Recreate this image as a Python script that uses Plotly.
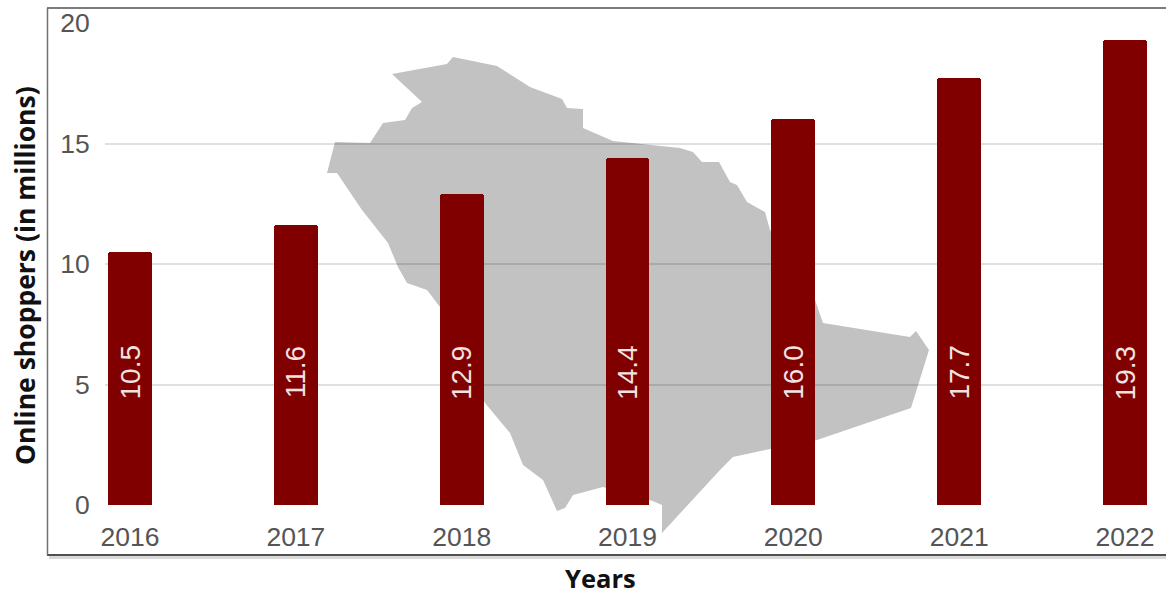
import plotly.graph_objects as go

years = ["2016", "2017", "2018", "2019", "2020", "2021", "2022"]
shoppers = [10.5, 11.6, 12.9, 14.4, 16.0, 17.7, 19.3]
y_ticks = [0, 5, 10, 15, 20]

# Decorative country silhouette behind the chart, as picture pixels
map_px_x = [392,447,453,497,530,562,567,583,583,613,680,693,702,719,730,737,747,765,770,815,823,910,916,929,911,817,770,733,720,662,662,650,603,573,565,557,543,523,510,485,440,427,407,398,388,362,337,327,335,370,383,405,412,422]
map_px_y = [74,64,57,66,87,99,108,109,128,141,148,152,162,162,182,185,202,212,230,300,323,337,331,350,408,440,449,457,470,533,505,500,487,495,508,511,480,465,433,403,307,290,283,267,243,210,173,173,142,143,123,120,108,102]

W, H = 1166, 594
L, R, T, B = 105, 1147, 23, 505

def px(x): return (x - L) / (R - L)
def py(y): return (B - y) / (B - T)

path = "M " + " L ".join(f"{px(x):.5f},{py(y):.5f}" for x, y in zip(map_px_x, map_px_y)) + " Z"
idx = list(range(len(years)))

fig = go.Figure(go.Bar(x=idx, y=shoppers, width=0.265,
                       marker=dict(color="#800000", cornerradius=3, line=dict(width=0)),
                       hoverinfo="x+y"))

shapes = [dict(type="path", xref="paper", yref="paper", path=path, layer="below",
               fillcolor="#c2c2c2", line=dict(width=0))]
# soft shadow under the frame
shapes.append(dict(type="line", xref="paper", yref="paper", x0=px(49), x1=px(1166), y0=py(557.5), y1=py(557.5),
                   line=dict(color="#d8d8d8", width=3), layer="above"))
# frame (open on the right, where the picture is cut)
for x0, x1, y0, y1, c, w in [(47, 1166, 555, 555, "#505050", 2),
                             (47, 1166, 8, 8, "#505050", 1.5),
                             (47.5, 47.5, 8, 555, "#707070", 1.5)]:
    shapes.append(dict(type="line", xref="paper", yref="paper", x0=px(x0), x1=px(x1), y0=py(y0), y1=py(y1),
                       line=dict(color=c, width=w), layer="above"))

annotations = [dict(x=i, y=5.5, xref="x", yref="y", text=f"{v:.1f}", textangle=-90, showarrow=False,
                    font=dict(family="Liberation Sans", size=28, color="#f2e3e3"))
               for i, v in zip(idx, shoppers)]
annotations.append(dict(x=px(25), y=py(276), xref="paper", yref="paper", xanchor="center", yanchor="middle",
                        text="<b>Online shoppers (in millions)</b>", textangle=-90, showarrow=False,
                        font=dict(family="Open Sans", size=26.5, color="#111111")))
annotations.append(dict(x=px(600), y=py(578), xref="paper", yref="paper", xanchor="center", yanchor="middle",
                        text="<b>Years</b>", showarrow=False,
                        font=dict(family="Open Sans", size=25.5, color="#111111")))

fig.update_layout(
    width=W, height=H, showlegend=False,
    margin=dict(l=L, r=W - R, t=T, b=H - B, pad=0, autoexpand=False),
    paper_bgcolor="white", plot_bgcolor="rgba(0,0,0,0)",
    bargap=0, shapes=shapes, annotations=annotations,
    xaxis=dict(range=[-0.151, 6.133], tickvals=idx, ticktext=years, showgrid=False, zeroline=False,
               showline=False, ticks="outside", ticklen=8, tickcolor="rgba(0,0,0,0)",
               tickfont=dict(family="Liberation Sans", size=26.5, color="#555555"), fixedrange=True),
    yaxis=dict(range=[0, 20], tickvals=y_ticks, showgrid=True, gridcolor="rgba(0,0,0,0.12)", gridwidth=1.5,
               zeroline=False, showline=False, ticks="outside", ticklen=9, tickcolor="rgba(0,0,0,0)",
               tickfont=dict(family="Liberation Sans", size=26.5, color="#555555"), fixedrange=True),
)

fig.write_html("out.html", config={"displayModeBar": False}, post_script="document.body.style.margin='0';")
